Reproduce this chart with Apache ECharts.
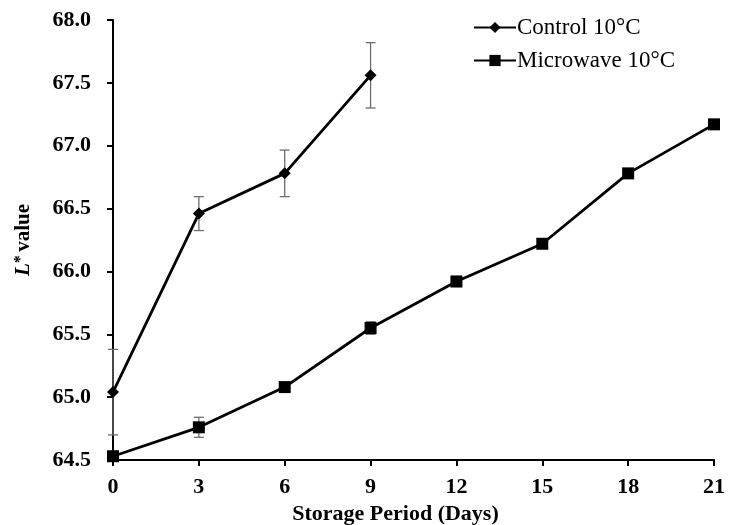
<!DOCTYPE html>
<html>
<head>
<meta charset="utf-8">
<script src="https://cdn.jsdelivr.net/npm/echarts@6/dist/echarts.min.js"></script>
<style>
html, body { margin: 0; padding: 0; background: #fff; }
#main { width: 741px; height: 525px; }
</style>
</head>
<body>
<div id="main"></div>
<script>
// storage days
var controlDays = [0, 3, 6, 9];
var controlL = [65.04, 66.46, 66.78, 67.56];
var controlErr = [0.34, 0.135, 0.185, 0.26];

var microDays = [0, 3, 6, 9, 12, 15, 18, 21];
var microL = [64.53, 64.76, 65.08, 65.55, 65.92, 66.22, 66.78, 67.17];
var microErr = [0.02, 0.08, 0.02, 0.05, 0.04, 0.02, 0.02, 0.02];

var xTicks = [0, 3, 6, 9, 12, 15, 18, 21];

var myChart = echarts.init(document.getElementById('main'));

function pairs(xs, ys) {
    return xs.map(function (x, i) { return [x, ys[i]]; });
}
function errData(xs, ys, es) {
    return xs.map(function (x, i) { return [x, ys[i] - es[i], ys[i] + es[i]]; });
}

// error bars drawn as custom series
function errorBar(params, api) {
    var x = api.value(0);
    var lo = api.coord([x, api.value(1)]);
    var hi = api.coord([x, api.value(2)]);
    var w = 5;
    var st = { stroke: '#6e6e6e', lineWidth: 1.3 };
    return {
        type: 'group',
        children: [
            { type: 'line', shape: { x1: hi[0], y1: hi[1], x2: lo[0], y2: lo[1] }, style: st },
            { type: 'line', shape: { x1: hi[0] - w, y1: hi[1], x2: hi[0] + w, y2: hi[1] }, style: st },
            { type: 'line', shape: { x1: lo[0] - w, y1: lo[1], x2: lo[0] + w, y2: lo[1] }, style: st }
        ]
    };
}

var serif = '"Liberation Serif", "Times New Roman", serif';

myChart.setOption({
    animation: false,
    backgroundColor: '#fff',
    grid: { left: 113, right: 27, top: 20, bottom: 65, containLabel: false, outerBoundsMode: 'none' },
    legend: {
        orient: 'vertical',
        left: 468,
        top: 11,
        itemWidth: 42,
        itemHeight: 14,
        itemGap: 10,
        data: ['Control 10°C', 'Microwave 10°C'],
        textStyle: { fontFamily: serif, fontSize: 23, color: '#000', padding: [0, 0, 0, -4] }
    },
    xAxis: {
        type: 'value',
        min: 0,
        max: 21,
        interval: 3,
        name: 'Storage Period (Days)',
        nameLocation: 'middle',
        nameGap: 37,
        nameTextStyle: { fontFamily: serif, fontSize: 22, fontWeight: 'bold', color: '#000', padding: [0, 36, 0, 0] },
        axisLine: { lineStyle: { color: '#000', width: 2 } },
        axisTick: { length: 6, lineStyle: { color: '#000', width: 2 } },
        axisLabel: {
            margin: 16,
            fontFamily: serif, fontSize: 22, fontWeight: 'bold', color: '#000',
            formatter: function (v) { return xTicks.indexOf(v) >= 0 ? String(v) : ''; }
        },
        splitLine: { show: false }
    },
    yAxis: {
        type: 'value',
        min: 64.5,
        max: 68,
        interval: 0.5,
        name: '{i|L}{s|*} {b|value}',
        nameLocation: 'middle',
        nameGap: 78,
        nameTextStyle: {
            rich: {
                i: { fontFamily: serif, fontSize: 21, fontWeight: 'bold', fontStyle: 'italic', color: '#000' },
                s: { fontFamily: serif, fontSize: 16, fontWeight: 'bold', color: '#000', verticalAlign: 'top', padding: [0, 0, 6, 0] },
                b: { fontFamily: serif, fontSize: 21, fontWeight: 'bold', color: '#000' }
            }
        },
        axisLine: { show: true, lineStyle: { color: '#000', width: 2 } },
        axisTick: { show: true, length: 6, lineStyle: { color: '#000', width: 2 } },
        axisLabel: {
            margin: 22,
            fontFamily: serif, fontSize: 22, fontWeight: 'bold', color: '#000',
            formatter: function (v) { return v.toFixed(1); }
        },
        splitLine: { show: false }
    },
    series: [
        {
            type: 'custom',
            renderItem: errorBar,
            data: errData(controlDays, controlL, controlErr),
            encode: { x: 0, y: [1, 2] },
            silent: true,
            z: 1
        },
        {
            type: 'custom',
            renderItem: errorBar,
            data: errData(microDays, microL, microErr),
            encode: { x: 0, y: [1, 2] },
            silent: true,
            z: 1
        },
        {
            name: 'Control 10°C',
            type: 'line',
            data: pairs(controlDays, controlL),
            symbol: 'diamond',
            symbolSize: 12,
            itemStyle: { color: '#000' },
            lineStyle: { color: '#000', width: 2.8 },
            z: 3
        },
        {
            name: 'Microwave 10°C',
            type: 'line',
            data: pairs(microDays, microL),
            symbol: 'rect',
            symbolSize: 12,
            itemStyle: { color: '#000' },
            lineStyle: { color: '#000', width: 2.8 },
            z: 3
        }
    ]
});
</script>
</body>
</html>
